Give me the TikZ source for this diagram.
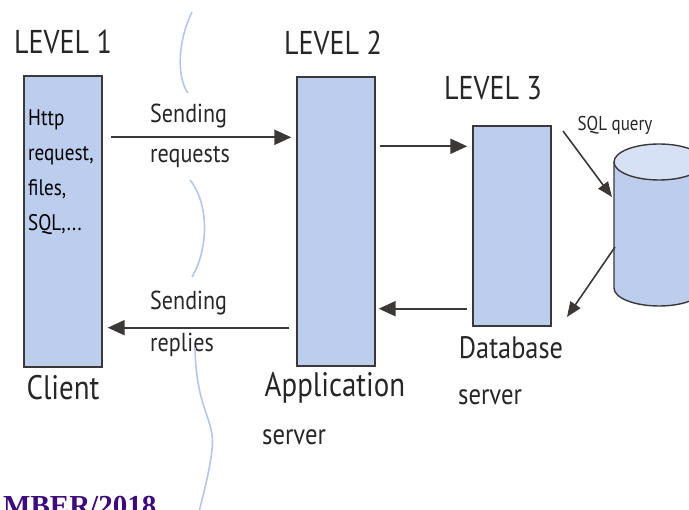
\documentclass[tikz,border=0pt]{standalone}
\usepackage{fontspec}
\setmainfont[FakeStretch=0.85]{PT Sans}
\newfontfamily\stampfont{Liberation Serif}
\usepackage{tikz}
\usetikzlibrary{arrows.meta,calc,positioning}
\definecolor{TierBlue}{HTML}{BCCDEE}
\definecolor{TierTop}{HTML}{D7E1F6}
\definecolor{TierEdge}{HTML}{3C3838}
\definecolor{WaveBlue}{HTML}{B4C7EA}
\definecolor{StampPurple}{HTML}{3D0B7A}

\begin{document}
\begin{tikzpicture}[x=1pt,y=1pt,
      tier/.style={draw=TierEdge,fill=TierBlue,line width=1.4pt,minimum width=78pt,inner sep=0pt},
      level/.style={font=\fontsize{33}{36}\selectfont,text=black!85,inner sep=0pt},
      role/.style={font=\fontsize{34}{36}\selectfont,text=black!85,inner sep=0pt},
      sub/.style={font=\fontsize{29}{32}\selectfont,text=black!85,inner sep=0pt},
      msg/.style={font=\fontsize{26}{28}\selectfont,text=black!85,inner sep=0pt},
      flow/.style={-{Triangle[length=17pt,width=15pt]},draw=TierEdge,line width=2.2pt},
      wave/.style={draw=WaveBlue,line width=1.6pt}
    ]
      \useasboundingbox (0,0) rectangle (689,-510);
      \clip (0,0) rectangle (689,-510);

      % the three tiers
      \node[tier,minimum height=291pt] (client) at (63,-221.5) {};
      \node[tier,minimum height=289pt] (app) at (336,-221.5) {};
      \node[tier,minimum height=200pt] (db) at (512,-226) {};

      \node[level] (lvl1) at (63,-42) {LEVEL 1};
      \node[level] (lvl2) at (333,-43) {LEVEL 2};
      \node[level] (lvl3) at (493,-88) {LEVEL 3};

      \node[anchor=north west,inner sep=0pt,align=left,font=\fontsize{22.5}{35}\selectfont] (payload) at (28,-110) {Http\\request,\\files,\\SQL,...};

      \node[role] (clientlbl) at (63,-388) {Client};
      \node[role] (applbl) at (335,-388) {Application};
      \node[sub,anchor=base west] (appsrv) at (262,-445) {server};
      \node[role,font=\fontsize{31}{34}\selectfont] (dblbl) at (511,-348) {Database};
      \node[sub,anchor=base west] (dbsrv) at (458,-405) {server};

      % messages between client and application server
      \node[msg,anchor=base west] (sendq) at (150,-123) {Sending};
      \node[msg,anchor=base west] (reqs) at (150,-163) {requests};
      \node[msg,anchor=base west] (sendr) at (150,-310) {Sending};
      \node[msg,anchor=base west] (reps) at (150,-352) {replies};

      \draw[flow,shorten <=8pt,shorten >=5pt] ([yshift=-62pt]client.north east) -- ([yshift=-61pt]app.north west);
      \draw[flow,shorten <=7pt,shorten >=5pt] ([yshift=39pt]app.south west) -- ([yshift=40pt]client.south east);
      \draw[flow,shorten <=4pt,shorten >=5pt] ([yshift=-70pt]app.north east) -- ([yshift=-21pt]db.north west);
      \draw[flow,shorten <=5pt,shorten >=3pt] ([yshift=18pt]db.south west) -- ([yshift=58pt]app.south east);

      % database store
      \fill[TierBlue] (614,-162) -- (614,-288) arc[start angle=180,end angle=360,x radius=45,y radius=18] -- (704,-162) -- cycle;
      \draw[TierEdge,line width=1.4pt] (704,-162) -- (704,-288) arc[start angle=360,end angle=180,x radius=45,y radius=18] -- (614,-162);
      \draw[TierEdge,fill=TierTop,line width=1.4pt] (659,-162) ellipse[x radius=45,y radius=18];
      \coordinate (storein) at (612,-197);
      \coordinate (storeout) at (615,-247);
      \coordinate (querystart) at (563,-131);
      \coordinate (answer) at (567,-317);

      \node[font=\fontsize{20}{22}\selectfont,text=black!85,inner sep=0pt] (sqlq) at (615,-125) {SQL query};
      \draw[flow,line width=1.6pt,-{Triangle[length=15pt,width=12pt]}] (querystart) -- (storein);
      \draw[flow,line width=1.6pt,-{Triangle[length=15pt,width=12pt]}] (storeout) -- (answer);

      % tier boundary
      \draw[wave] (192,-12) .. controls (176,-45) and (178,-80) .. (188,-93);
      \draw[wave] (190,-180) .. controls (210,-205) and (208,-250) .. (192,-277);
      \draw[wave] (195,-348) .. controls (196,-410) and (216,-420) .. (212,-450) .. controls (209,-475) and (203,-495) .. (199,-512);

      \node[anchor=base west,inner sep=0pt,text=StampPurple,font=\stampfont\bfseries\fontsize{29}{30}\selectfont] (stamp) at (3,-516) {MBER/2018};
    \end{tikzpicture}
\end{document}
